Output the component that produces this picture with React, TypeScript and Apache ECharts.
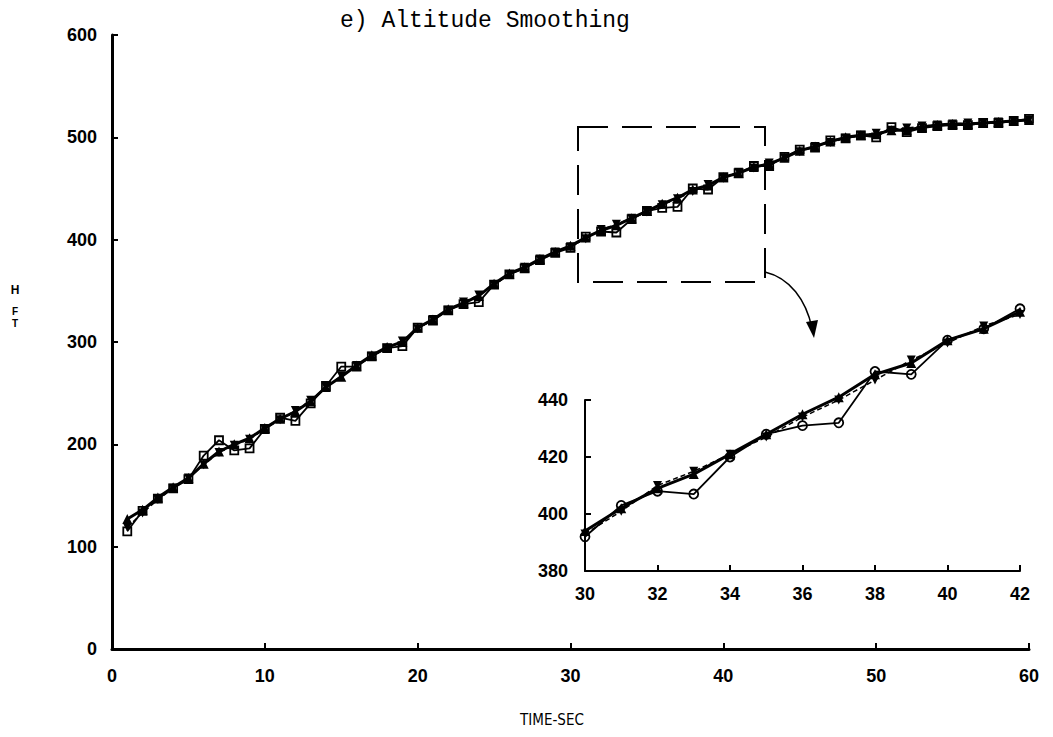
import React, { useEffect, useRef } from "react";
import * as echarts from "echarts";

// Time (seconds) of each sample
const times = [
  1, 2, 3, 4, 5, 6, 7, 8, 9, 10, 11, 12, 13, 14, 15, 16, 17, 18, 19, 20,
  21, 22, 23, 24, 25, 26, 27, 28, 29, 30, 31, 32, 33, 34, 35, 36, 37, 38, 39, 40,
  41, 42, 43, 44, 45, 46, 47, 48, 49, 50, 51, 52, 53, 54, 55, 56, 57, 58, 59, 60,
];

// Filtered altitude (solid heavy line, filled markers)
const filtered = [
  127, 136, 148, 158, 167, 181, 193, 200, 206, 216, 225, 232, 242, 256, 266, 277, 287, 295, 300, 314,
  322, 332, 338, 345, 357, 367, 373, 381, 388, 394, 402, 409, 414, 421, 428, 435, 441, 449, 453, 461,
  465, 471, 474, 480, 487, 491, 496, 500, 502, 503, 507, 507, 510, 512, 513, 513, 514, 515, 516, 517,
];

// Raw measured altitude (solid line, open markers)
const measured = [
  115, 135, 147, 157, 166, 189, 204, 194, 196, 215, 226, 223, 240, 257, 276, 276, 286, 294, 296, 314,
  321, 331, 337, 339, 356, 366, 372, 380, 387, 392, 403, 408, 407, 420, 428, 431, 432, 450, 449, 461,
  465, 472, 472, 481, 488, 490, 497, 499, 502, 500, 510, 505, 509, 511, 512, 512, 514, 514, 516, 518,
];

// Smoothed altitude (dashed line)
const smoothed = [
  119, 133, 146, 157, 167, 180, 192, 199, 205, 215, 224, 233, 243, 256, 267, 277, 286, 294, 301, 313,
  322, 331, 339, 346, 356, 366, 373, 381, 388, 393, 401, 410, 415, 421, 427, 434, 440, 447, 454, 460,
  466, 470, 475, 480, 486, 491, 495, 499, 502, 504, 507, 509, 511, 512, 513, 514, 514, 515, 516, 517,
];

const insetStart = 30;
const insetEnd = 42;

const INV_TRI = "path://M0,0 L10,0 L5,9 Z";

export default function App() {
  const ref = useRef<HTMLDivElement>(null);

  useEffect(() => {
    if (!ref.current) return;
    const chart = echarts.init(ref.current, undefined, { renderer: "svg" });

    const pairs = (vals: number[]) => times.map((t, i) => [t, vals[i]]);
    const insetPairs = (vals: number[]) =>
      times
        .map((t, i) => [t, vals[i]])
        .filter((p) => p[0] >= insetStart && p[0] <= insetEnd);

    const labelFont = {
      color: "#000",
      fontSize: 18,
      fontWeight: "bold" as const,
      fontFamily: "Liberation Sans, Arial, sans-serif",
    };

    const axisCommon = (lineW: number) => ({
      axisLine: { show: true, onZero: false, lineStyle: { color: "#000", width: lineW } },
      axisTick: { show: true, inside: true, length: 6, lineStyle: { color: "#000", width: 2 } },
      splitLine: { show: false },
    });

    const mkSeries = (
      xi: number,
      data: (vals: number[]) => number[][],
      openSymbol: string,
      openSize: number
    ) => [
      {
        type: "line",
        xAxisIndex: xi,
        yAxisIndex: xi,
        data: data(smoothed),
        clip: false,
        symbol: INV_TRI,
        symbolSize: 9,
        lineStyle: { color: "#000", width: 1.5, type: [5, 3] },
        itemStyle: { color: "#000" },
        z: 2,
      },
      {
        type: "line",
        xAxisIndex: xi,
        yAxisIndex: xi,
        data: data(filtered),
        clip: false,
        symbol: "triangle",
        symbolSize: 10,
        lineStyle: { color: "#000", width: 3 },
        itemStyle: { color: "#000" },
        z: 3,
      },
      {
        type: "line",
        xAxisIndex: xi,
        yAxisIndex: xi,
        data: data(measured),
        clip: false,
        symbol: openSymbol,
        symbolSize: openSize,
        lineStyle: { color: "#000", width: 1.8 },
        itemStyle: { color: "rgba(0,0,0,0)", borderColor: "#000", borderWidth: 1.8 },
        z: 4,
      },
    ];

    const txt = (text: string, x: number, y: number, font: string) => ({
      type: "text",
      x,
      y,
      style: { text, fill: "#000", font, align: "center", verticalAlign: "middle" },
    });

    chart.setOption({
      animation: false,
      backgroundColor: "#fff",
      grid: [
        { left: 112, top: 35, width: 917, height: 614 },
        { left: 585, top: 400, width: 435, height: 171 },
      ],
      xAxis: [
        {
          type: "value",
          gridIndex: 0,
          min: 0,
          max: 60,
          interval: 10,
          ...axisCommon(3),
          axisLabel: { ...labelFont, margin: 18 },
        },
        {
          type: "value",
          gridIndex: 1,
          min: 30,
          max: 42,
          interval: 2,
          ...axisCommon(2),
          axisLabel: { ...labelFont, margin: 14 },
        },
      ],
      yAxis: [
        {
          type: "value",
          gridIndex: 0,
          min: 0,
          max: 600,
          interval: 100,
          ...axisCommon(3),
          axisLabel: { ...labelFont, margin: 15 },
        },
        {
          type: "value",
          gridIndex: 1,
          min: 380,
          max: 440,
          interval: 20,
          ...axisCommon(2),
          axisLabel: { ...labelFont, margin: 17 },
        },
      ],
      series: [
        ...mkSeries(0, pairs, "rect", 8),
        ...mkSeries(1, insetPairs, "circle", 9),
      ],
      graphic: [
        {
          type: "text",
          left: 340,
          top: 9,
          style: {
            text: "e) Altitude Smoothing",
            fill: "#000",
            font: "23px 'Liberation Mono', 'Courier New', monospace",
          },
        },
        txt("H", 15, 290, "bold 12px 'Liberation Sans', sans-serif"),
        txt("F", 15, 311, "bold 10px 'Liberation Sans', sans-serif"),
        txt("T", 15, 323, "bold 10px 'Liberation Sans', sans-serif"),
        txt("TIME-SEC", 552, 720, "15px 'DejaVu Sans Condensed', 'Liberation Sans Narrow', sans-serif"),
        {
          type: "rect",
          shape: { x: 578, y: 127, width: 187, height: 155 },
          style: { fill: "none", stroke: "#000", lineWidth: 2, lineDash: [30, 14] },
          z: 10,
        },
        {
          type: "bezierCurve",
          shape: { x1: 765, y1: 272, cpx1: 790, cpy1: 278, cpx2: 806, cpy2: 300, x2: 812, y2: 328 },
          style: { fill: "none", stroke: "#000", lineWidth: 1.5 },
          z: 10,
        },
        {
          type: "polygon",
          shape: { points: [[806, 322], [818, 320], [814, 338]] },
          style: { fill: "#000" },
          z: 10,
        },
      ],
    });

    return () => chart.dispose();
  }, []);

  return (
    <div
      ref={ref}
      style={{ position: "fixed", left: 0, top: 0, width: 1053, height: 737, background: "#fff" }}
    />
  );
}
